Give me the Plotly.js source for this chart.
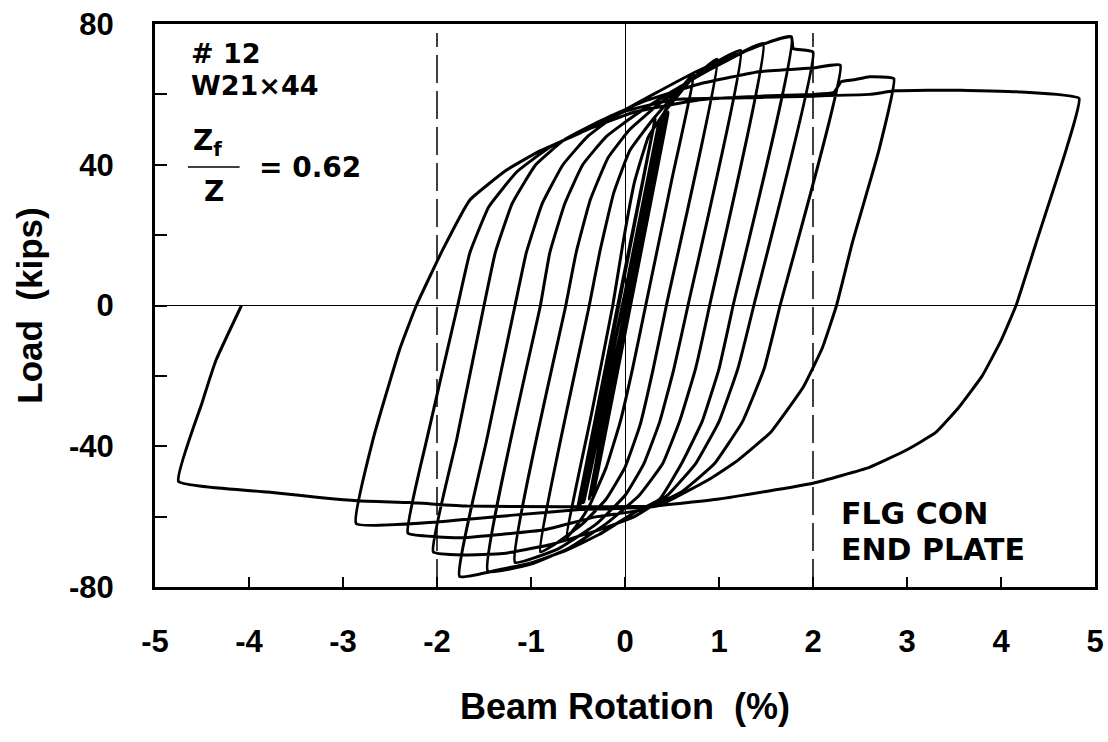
<!DOCTYPE html>
<html><head><meta charset="utf-8">
<script src="https://cdn.plot.ly/plotly-3.0.1.min.js"></script>
<style>html,body{margin:0;padding:0;background:#fff}#chart{width:1108px;height:742px}</style>
</head><body><div id="chart"></div>
<script>
// Beam rotation (%) and load (kips), cycle by cycle
const rotElastic  = [0, 0.36, -0.44, 0.46, -0.34, 0.40, -0.48, 0.32, -0.50, 0.44, -0.38, 0.42];
const loadElastic = [0, 52, -56, 55, -54, 54, -57, 53, -57, 55, -55, 55];

const rotC1  = [0.55, 0.73, 0.50, 0.22, 0.08, -0.05, -0.20, -0.38, -0.50, -0.62];
const loadC1 = [60, 66, 36, 0, -18, -33, -46, -57, -62, -66];
const rotC1r  = [-0.35, -0.13, -0.02, 0.10, 0.25, 0.45, 0.70, 0.98];
const loadC1r = [-30, 0, 18, 35, 48, 56, 64, 70];

const rotC2  = [0.44, 0.30, 0.16, 0.00, -0.20, -0.45, -0.70, -0.90];
const loadC2 = [0, -18, -34, -46, -55, -62, -67, -70];
const rotC2r  = [-0.38, -0.27, -0.12, 0.05, 0.30, 0.60, 0.90, 1.23];
const loadC2r = [0, 15, 32, 44, 53, 62, 68, 72.5];

const rotC3  = [0.67, 0.52, 0.37, 0.20, 0.00, -0.30, -0.70, -1.17];
const loadC3 = [0, -18, -33, -45, -54, -62, -69, -73];
const rotC3r  = [-0.63, -0.52, -0.37, -0.18, 0.05, 0.35, 0.70, 1.10, 1.47];
const loadC3r = [0, 15, 30, 42, 50, 57, 64, 70, 74.5];

const rotC4  = [0.90, 0.75, 0.58, 0.40, 0.15, -0.20, -0.60, -1.00, -1.46];
const loadC4 = [0, -18, -33, -45, -54, -62, -69, -73.5, -75.5];
const rotC4r  = [-0.90, -0.80, -0.64, -0.45, -0.20, 0.10, 0.45, 0.90, 1.30, 1.77];
const loadC4r = [0, 15, 29, 40, 48, 54, 60, 67, 72.5, 76.4];

const rotC5  = [1.15, 1.00, 0.82, 0.60, 0.37, 0.09, -0.27, -0.62, -0.98, -1.33, -1.76];
const loadC5 = [0, -18, -33, -45, -55, -59, -65, -69.5, -73, -75, -77];
const rotC5r  = [-1.47, -1.17, -1.05, -0.88, -0.66, -0.40, -0.10, 0.30, 0.80, 1.30, 1.60, 1.77, 1.79, 2.00];
const loadC5r = [-38, 0, 15, 29, 40, 48, 54, 60, 67, 72.5, 75.5, 76.4, 73, 72];

const rotC6  = [1.37, 1.20, 1.00, 0.75, 0.45, 0.10, -0.30, -0.80, -1.30, -1.72, -2.04];
const loadC6 = [0, -18, -33, -45, -54, -60, -64, -68, -70.5, -70.9, -70];
const rotC6r  = [-1.79, -1.50, -1.38, -1.20, -0.95, -0.65, -0.30, 0.20, 0.80, 1.44, 2.00, 2.29];
const loadC6r = [-38, 0, 15, 29, 40, 47, 52, 58, 63, 66.5, 67.5, 68.3];

const rotC7  = [1.65, 1.48, 1.25, 0.95, 0.60, 0.20, -0.30, -0.87, -1.30, -1.72, -2.01, -2.31];
const loadC7 = [0, -18, -33, -45, -53, -58, -60, -63.8, -65, -66, -65.7, -64.7];
const rotC7r  = [-2.11, -1.78, -1.65, -1.45, -1.15, -0.80, -0.40, 0.10, 0.80, 1.44, 2.00, 2.22, 2.30, 2.45, 2.60, 2.86];
const loadC7r = [-38.2, 0, 15, 28, 38, 45, 50, 55, 58.5, 59.5, 60, 60.5, 63.6, 64.2, 65, 64.5];

const rotC8  = [2.70, 2.42, 2.25, 2.10, 1.90, 1.55, 1.20, 0.92, 0.34, -0.48, -1.16, -2.00, -2.86];
const loadC8 = [44, 18, 0, -12, -23, -36, -44, -49, -57, -58, -59.5, -61.5, -62];
const rotC8r  = [-2.68, -2.40, -2.22, -1.94, -1.65, -1.26, -0.90, -0.48, -0.02, 0.51, 1.20, 2.00, 2.60, 2.88, 3.57, 4.21, 4.83];
const loadC8r = [-38, -12.7, 0, 15.8, 30, 38.5, 44, 49, 55, 58.5, 59, 59.5, 60, 61, 61.2, 60.7, 58.9];

const rotC9  = [4.69, 4.40, 4.16, 4.00, 3.80, 3.55, 3.31, 3.00, 2.60, 2.00, 1.00, 0.30, -0.66, -1.68, -2.29, -2.85, -3.80, -4.75];
const loadC9 = [44, 20, 0, -10, -20, -29, -36, -41, -46, -50.5, -55, -57, -57.2, -57, -56, -55.5, -53, -50];
const rotEnd  = [-4.50, -4.35, -4.08];
const loadEnd = [-27.7, -15.5, 0];

const xTickVals = [-5, -4, -3, -2, -1, 0, 1, 2, 3, 4, 5];
const xTickText = ['-5', '-4', '-3', '-2', '-1', '0', '1', '2', '3', '4', '5'];
const yTickVals = [-80, -40, 0, 40, 80];
const yTickText = ['-80', '-40', '0', '40', '80'];
const yMinorTickVals = [-60, -20, 20, 60];
const limitRotations = [-2, 2];

const rotation = [].concat(rotElastic, rotC1, rotC1r, rotC2, rotC2r, rotC3, rotC3r, rotC4, rotC4r,
  rotC5, rotC5r, rotC6, rotC6r, rotC7, rotC7r, rotC8, rotC8r, rotC9, rotEnd);
const load = [].concat(loadElastic, loadC1, loadC1r, loadC2, loadC2r, loadC3, loadC3r, loadC4, loadC4r,
  loadC5, loadC5r, loadC6, loadC6r, loadC7, loadC7r, loadC8, loadC8r, loadC9, loadEnd);

const SANS = '"Liberation Sans", Arial, Helvetica, sans-serif';
const WIDE = '"DejaVu Sans", Verdana, sans-serif';

const data = [{
  x: rotation, y: load, type: 'scatter', mode: 'lines',
  line: {color: '#000', width: 3, shape: 'spline', smoothing: 0.35}, hoverinfo: 'skip'
}];

const shapes = limitRotations.map(v => ({
  type: 'line', xref: 'x', yref: 'paper', x0: v, x1: v, y0: 0, y1: 0.984,
  line: {color: '#000', width: 1.5, dash: '28px,8px'}, layer: 'below'
}));
shapes.push({type: 'line', xref: 'paper', yref: 'paper', x0: 0.035, x1: 0.090, y0: 0.746, y1: 0.746,
  line: {color: '#000', width: 1.5}});

const ann = (text, x, y, size) => ({text, x, y, xref: 'paper', yref: 'paper', xanchor: 'left', yanchor: 'middle',
  showarrow: false, font: {family: WIDE, size, color: '#000', weight: 'bold'}});

const layout = {
  width: 1108, height: 742,
  margin: {l: 155, r: 13, t: 24, b: 155},
  paper_bgcolor: '#fff', plot_bgcolor: '#fff', showlegend: false,
  font: {family: SANS, color: '#000'},
  xaxis: {
    range: [-5, 5], tickmode: 'array', tickvals: xTickVals, ticktext: xTickText,
    ticks: 'inside', ticklen: 10, tickwidth: 2, tickcolor: '#000',
    showline: true, mirror: true, linewidth: 3, linecolor: '#000',
    showgrid: false, zeroline: true, zerolinecolor: '#000', zerolinewidth: 1,
    tickfont: {family: SANS, size: 31, weight: 'bold'}, ticklabelstandoff: 25,
    title: {text: 'Beam Rotation\u00a0\u00a0(%)', font: {family: SANS, size: 36, weight: 'bold'}, standoff: 36}
  },
  yaxis: {
    range: [-80, 80], tickmode: 'array', tickvals: yTickVals, ticktext: yTickText,
    ticks: 'inside', ticklen: 12, tickwidth: 2, tickcolor: '#000',
    minor: {tickmode: 'array', tickvals: yMinorTickVals, ticks: 'inside', ticklen: 12, tickwidth: 2, tickcolor: '#000', showgrid: false},
    showline: true, mirror: true, linewidth: 3, linecolor: '#000',
    showgrid: false, zeroline: true, zerolinecolor: '#000', zerolinewidth: 1,
    tickfont: {family: SANS, size: 31, weight: 'bold'}, ticklabelstandoff: 32,
    title: {text: 'Load\u00a0\u00a0(kips)', font: {family: SANS, size: 35, weight: 'bold'}, standoff: 16}
  },
  shapes: shapes,
  annotations: [
    ann('# 12', 0.036, 0.948, 27),
    ann('W21×44', 0.036, 0.891, 27),
    ann('Z<sub>f</sub>', 0.038, 0.789, 28),
    ann('Z', 0.050, 0.702, 28),
    ann('= 0.62', 0.108, 0.746, 28),
    ann('FLG CON', 0.728, 0.130, 30),
    ann('END PLATE', 0.728, 0.067, 30)
  ]
};

Plotly.newPlot('chart', data, layout, {staticPlot: true, displayModeBar: false});
</script></body></html>
